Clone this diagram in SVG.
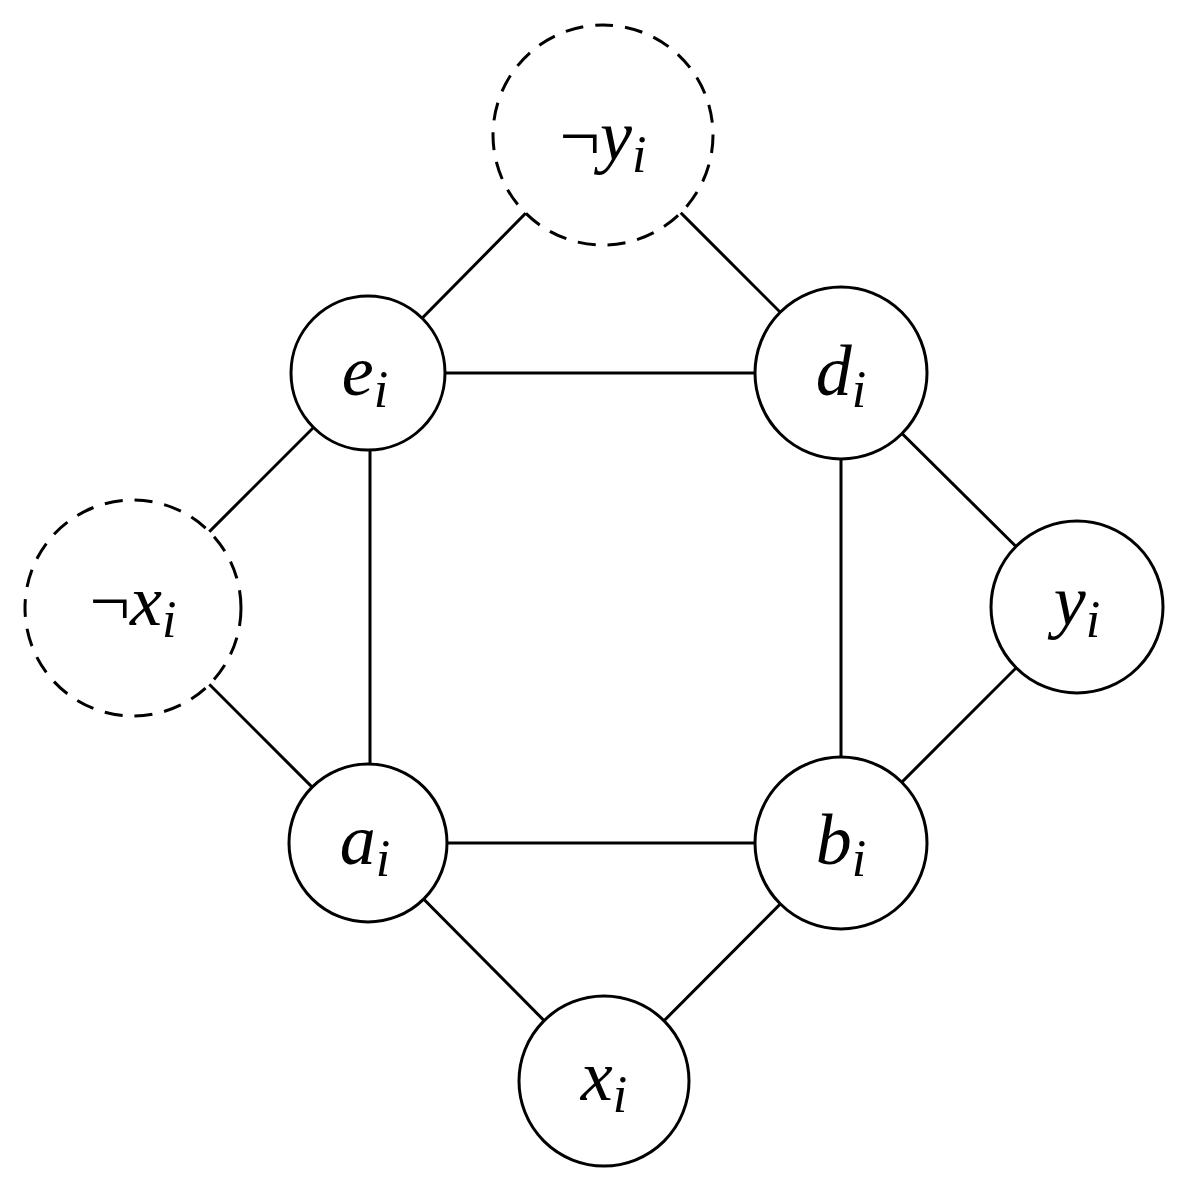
<svg xmlns="http://www.w3.org/2000/svg" width="1190" height="1190" viewBox="0 0 1190 1190">
<style>
.n{fill:#fff;stroke:#000;stroke-width:3}
.d{stroke-dasharray:18 12}
.e line{stroke:#000;stroke-width:3}
text{font-family:"Liberation Serif","DejaVu Serif",serif;font-style:italic;font-size:72px;text-anchor:middle}
.s{font-size:52px}
.u{font-style:normal}
</style>
<rect width="1190" height="1190" fill="#fff"/>
<g class="e">
<line x1="603" y1="135" x2="368" y2="373"/>
<line x1="603" y1="135" x2="841" y2="373"/>
<line x1="368" y1="373" x2="841" y2="373"/>
<line x1="370" y1="373" x2="370" y2="843"/>
<line x1="841" y1="373" x2="841" y2="843"/>
<line x1="368" y1="373" x2="133" y2="608"/>
<line x1="133" y1="608" x2="368" y2="843"/>
<line x1="841" y1="373" x2="1077" y2="607"/>
<line x1="1077" y1="607" x2="841" y2="843"/>
<line x1="368" y1="843" x2="841" y2="843"/>
<line x1="368" y1="843" x2="604" y2="1081"/>
<line x1="841" y1="843" x2="604" y2="1081"/>
</g>
<g id="ny"><circle class="n d" cx="603" cy="135" r="110"/><text x="603" y="160"><tspan class="u">¬</tspan>y<tspan class="s" dy="12">i</tspan></text></g>
<g id="e"><circle class="n" cx="368" cy="373" r="77"/><text x="365" y="395">e<tspan class="s" dy="12">i</tspan></text></g>
<g id="d"><circle class="n" cx="841" cy="373" r="86"/><text x="841" y="395">d<tspan class="s" dy="12">i</tspan></text></g>
<g id="nx"><circle class="n d" cx="133" cy="608" r="108"/><text x="133" y="625"><tspan class="u">¬</tspan>x<tspan class="s" dy="12">i</tspan></text></g>
<g id="y"><circle class="n" cx="1077" cy="607" r="86"/><text x="1077" y="625">y<tspan class="s" dy="12">i</tspan></text></g>
<g id="a"><circle class="n" cx="368" cy="843" r="79"/><text x="365" y="864">a<tspan class="s" dy="12">i</tspan></text></g>
<g id="b"><circle class="n" cx="841" cy="843" r="86"/><text x="841" y="864">b<tspan class="s" dy="12">i</tspan></text></g>
<g id="x"><circle class="n" cx="604" cy="1081" r="85"/><text x="604" y="1100">x<tspan class="s" dy="12">i</tspan></text></g>
</svg>
